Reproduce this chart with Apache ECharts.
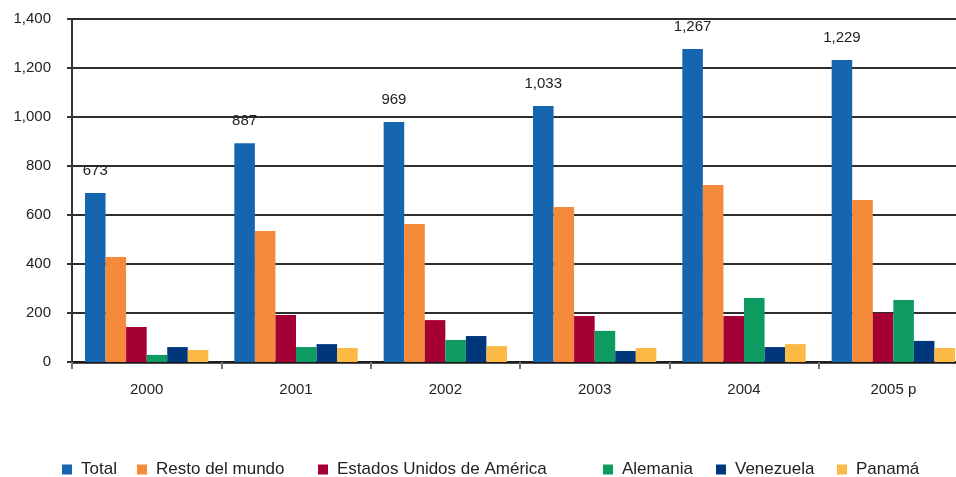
<!DOCTYPE html>
<html>
<head>
<meta charset="utf-8">
<script src="https://cdn.jsdelivr.net/npm/echarts@6/dist/echarts.min.js"></script>
<style>
html,body{margin:0;padding:0;background:#fff;overflow:hidden;width:956px;height:477px;}
#chart{width:968px;height:477px;}
</style>
</head>
<body>
<div id="chart"></div>
<script>
const categories = ['2000', '2001', '2002', '2003', '2004', '2005 p'];
const seriesNames = ['Total', 'Resto del mundo', 'Estados Unidos de América', 'Alemania', 'Venezuela', 'Panamá'];
const total = [690, 893, 980, 1045, 1278, 1233];
const totalLabels = ['673', '887', '969', '1,033', '1,267', '1,229'];
const resto = [429, 535, 563, 633, 722, 661];
const eeuu = [143, 192, 171, 188, 188, 200];
const alemania = [29, 61, 90, 127, 261, 253];
const venezuela = [61, 73, 106, 45, 61, 86];
const panama = [49, 57, 65, 57, 73, 57];
const yTicks = [0, 200, 400, 600, 800, 1000, 1200, 1400];

const colors = ['#1565b0', '#f58a3a', '#a50034', '#0e9b62', '#00377a', '#fdb945'];
const values = [total, resto, eeuu, alemania, venezuela, panama];
const legendLeft = [62, 137, 318, 603, 716, 837];

const font = 'Liberation Sans, Arial, sans-serif';

const chart = echarts.init(document.getElementById('chart'));
const series = seriesNames.map((name, i) => {
  const s = {
    name: name,
    type: 'bar',
    data: values[i],
    itemStyle: { color: colors[i] },
    barGap: '0%',
    barCategoryGap: '17.4%',
    animation: false
  };
  if (i === 0) {
    s.label = {
      show: true,
      position: 'top',
      distance: 15,
      fontFamily: font,
      fontSize: 15,
      color: '#222',
      formatter: p => totalLabels[p.dataIndex]
    };
  }
  return s;
});

const legends = seriesNames.map((name, i) => ({
  data: [name],
  left: legendLeft[i],
  top: 459,
  padding: 0,
  icon: 'rect',
  itemWidth: 10,
  itemHeight: 10,
  itemGap: 0,
  textStyle: { fontFamily: font, fontSize: 17, lineHeight: 17, color: '#222', padding: [4, 0, 0, 4] },
  selectedMode: false
}));

chart.setOption({
  animation: false,
  color: colors,
  legend: legends,
  grid: { left: 72, top: 19, right: 0, height: 343, containLabel: false },
  xAxis: {
    type: 'category',
    data: categories,
    axisLine: { show: true, lineStyle: { color: '#1a1a1a', width: 2.5 } },
    axisTick: { show: true, alignWithLabel: false, length: 7, lineStyle: { color: '#777', width: 2 } },
    axisLabel: { fontFamily: font, fontSize: 15, color: '#222', margin: 20 },
    splitLine: { show: false }
  },
  yAxis: {
    type: 'value',
    min: 0,
    max: 1400,
    interval: 200,
    axisLine: { show: true, lineStyle: { color: '#333', width: 2 } },
    axisTick: { show: true, length: 5, lineStyle: { color: '#333', width: 2 } },
    axisLabel: {
      fontFamily: font, fontSize: 15, color: '#222', margin: 21,
      formatter: v => yTicks.includes(v) ? v.toLocaleString('en-US') : ''
    },
    splitLine: { show: true, lineStyle: { color: '#2e2e2e', width: 2 } }
  },
  series: series
});
</script>
</body>
</html>
